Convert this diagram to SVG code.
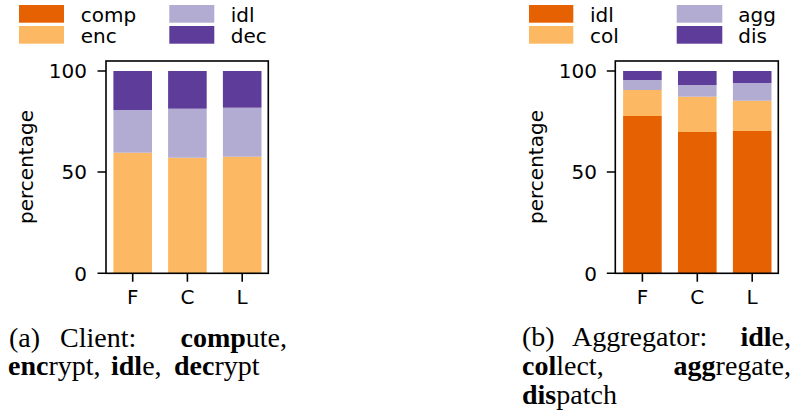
<svg xmlns="http://www.w3.org/2000/svg" width="795" height="418" viewBox="0 0 795 418">
<style>
.t{font-family:"DejaVu Sans",sans-serif;font-size:20px;fill:#000}
.cap{font-family:"Liberation Serif",serif;font-size:28px;fill:#000}
.b{font-weight:bold}
.c1{fill:#e66101}.c2{fill:#fdb863}.c3{fill:#b2abd2}.c4{fill:#5e3c99}
.ax{fill:none;stroke:#000;stroke-width:1.6}
.tk{stroke:#000;stroke-width:1.6}
</style>
<rect width="795" height="418" fill="#fff"/>
<g id="chart-a">
  <g id="legend-a">
    <rect class="c1" x="19" y="5" width="45" height="17.7"/>
    <rect class="c2" x="19" y="26" width="45" height="17.7"/>
    <rect class="c3" x="169.3" y="5" width="45" height="17.7"/>
    <rect class="c4" x="169.3" y="26" width="45" height="17.7"/>
    <text class="t" x="80.7" y="22">comp</text>
    <text class="t" x="80.7" y="43">enc</text>
    <text class="t" x="230.7" y="22">idl</text>
    <text class="t" x="230.7" y="43">dec</text>
  </g>
  <g id="bars-a">
    <rect class="c2" x="113.4" y="152.7" width="38.6" height="120.6"/>
    <rect class="c3" x="113.4" y="110" width="38.6" height="42.7"/>
    <rect class="c4" x="113.4" y="71" width="38.6" height="39"/>
    <rect class="c2" x="168.1" y="157.7" width="38.6" height="115.6"/>
    <rect class="c3" x="168.1" y="108.7" width="38.6" height="49"/>
    <rect class="c4" x="168.1" y="71" width="38.6" height="37.7"/>
    <rect class="c2" x="222.9" y="156.7" width="38.6" height="116.6"/>
    <rect class="c3" x="222.9" y="107.7" width="38.6" height="49"/>
    <rect class="c4" x="222.9" y="71" width="38.6" height="36.7"/>
  </g>
  <g id="axes-a">
    <rect class="ax" x="106" y="61" width="162.3" height="212.3"/>
    <path class="tk" d="M106 71H97.5M106 172H97.5M106 273.3H97.5M132.7 273.3V281.7M187.4 273.3V281.7M242.2 273.3V281.7"/>
    <text class="t" x="87" y="78.3" text-anchor="end">100</text>
    <text class="t" x="87" y="179.3" text-anchor="end">50</text>
    <text class="t" x="87" y="280.6" text-anchor="end">0</text>
    <text class="t" x="132.7" y="303.5" text-anchor="middle">F</text>
    <text class="t" x="187.4" y="303.5" text-anchor="middle">C</text>
    <text class="t" x="242.2" y="303.5" text-anchor="middle">L</text>
    <text class="t" transform="translate(33 167) rotate(-90)" text-anchor="middle">percentage</text>
  </g>
  <g id="caption-a" class="cap">
    <text x="9" y="347">(a)</text>
    <text x="60" y="347">Client:</text>
    <text x="287" y="347" text-anchor="end"><tspan class="b">comp</tspan>ute,</text>
    <text x="8" y="375"><tspan class="b">enc</tspan>rypt,</text>
    <text x="111" y="375"><tspan class="b">idl</tspan>e,</text>
    <text x="174" y="375"><tspan class="b">dec</tspan>rypt</text>
  </g>
</g>
<g id="chart-b">
  <g id="legend-b">
    <rect class="c1" x="529" y="5" width="44.3" height="17.7"/>
    <rect class="c2" x="529" y="26" width="44.3" height="17.7"/>
    <rect class="c3" x="676.7" y="5" width="45.6" height="17.7"/>
    <rect class="c4" x="676.7" y="26" width="45.6" height="17.7"/>
    <text class="t" x="590" y="22">idl</text>
    <text class="t" x="590" y="43">col</text>
    <text class="t" x="738.3" y="22">agg</text>
    <text class="t" x="738.3" y="43">dis</text>
  </g>
  <g id="bars-b">
    <rect class="c1" x="623.1" y="116" width="38.6" height="157.3"/>
    <rect class="c2" x="623.1" y="90" width="38.6" height="26"/>
    <rect class="c3" x="623.1" y="80" width="38.6" height="10"/>
    <rect class="c4" x="623.1" y="71" width="38.6" height="9"/>
    <rect class="c1" x="678" y="132" width="38.6" height="141.3"/>
    <rect class="c2" x="678" y="96.7" width="38.6" height="35.3"/>
    <rect class="c3" x="678" y="85" width="38.6" height="11.7"/>
    <rect class="c4" x="678" y="71" width="38.6" height="14"/>
    <rect class="c1" x="732.9" y="131" width="38.6" height="142.3"/>
    <rect class="c2" x="732.9" y="100.7" width="38.6" height="30.3"/>
    <rect class="c3" x="732.9" y="83" width="38.6" height="17.7"/>
    <rect class="c4" x="732.9" y="71" width="38.6" height="12"/>
  </g>
  <g id="axes-b">
    <rect class="ax" x="615.3" y="61" width="163" height="212.3"/>
    <path class="tk" d="M615.3 71H606.8M615.3 172H606.8M615.3 273.3H606.8M642.4 273.3V281.7M697.3 273.3V281.7M752.2 273.3V281.7"/>
    <text class="t" x="597" y="78.3" text-anchor="end">100</text>
    <text class="t" x="597" y="179.3" text-anchor="end">50</text>
    <text class="t" x="597" y="280.6" text-anchor="end">0</text>
    <text class="t" x="642.4" y="303.5" text-anchor="middle">F</text>
    <text class="t" x="697.3" y="303.5" text-anchor="middle">C</text>
    <text class="t" x="752.2" y="303.5" text-anchor="middle">L</text>
    <text class="t" transform="translate(543 167) rotate(-90)" text-anchor="middle">percentage</text>
  </g>
  <g id="caption-b" class="cap">
    <text x="522" y="346">(b)</text>
    <text x="572" y="346">Aggregator:</text>
    <text x="791" y="346" text-anchor="end"><tspan class="b">idl</tspan>e,</text>
    <text x="522" y="375"><tspan class="b">col</tspan>lect,</text>
    <text x="791" y="375" text-anchor="end"><tspan class="b">agg</tspan>regate,</text>
    <text x="522" y="404"><tspan class="b">dis</tspan>patch</text>
  </g>
</g>
</svg>
